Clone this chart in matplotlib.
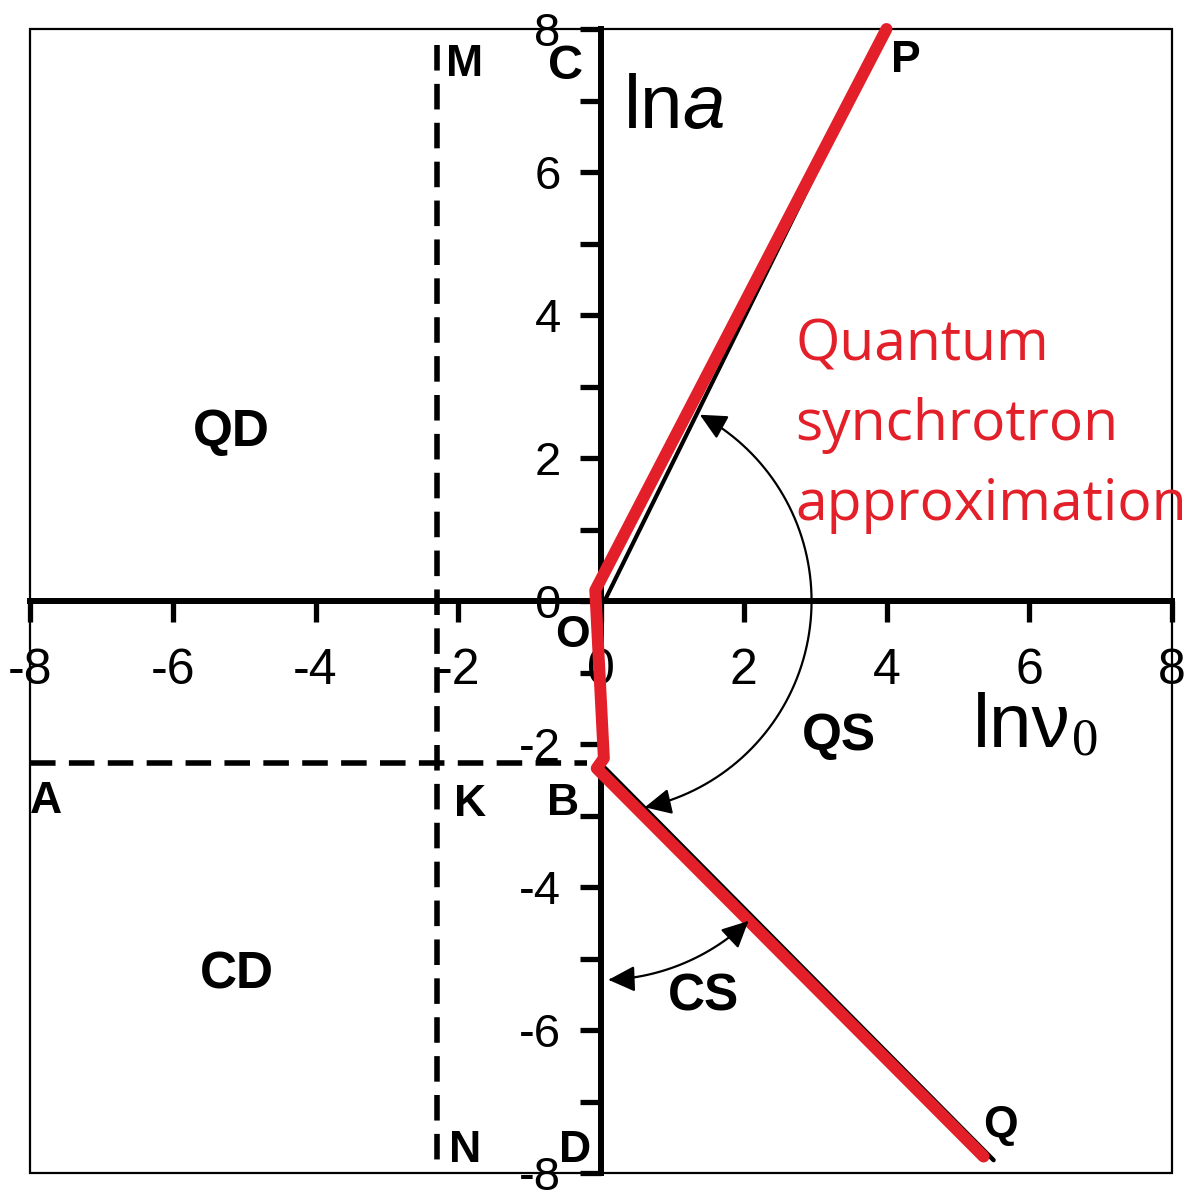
import matplotlib.pyplot as plt
import numpy as np
from matplotlib.patches import FancyArrowPatch, Rectangle
from matplotlib.path import Path

plt.rcParams['font.family'] = ['Liberation Sans', 'DejaVu Sans']
plt.rcParams['axes.unicode_minus'] = False
plt.rcParams['mathtext.fontset'] = 'custom'
plt.rcParams['mathtext.rm'] = 'Liberation Sans'
plt.rcParams['mathtext.it'] = 'Liberation Sans:italic'

# axis ticks
x_ticks = [-8, -6, -4, -2, 0, 2, 4, 6, 8]
y_ticks = [-8, -6, -4, -2, 0, 2, 4, 6, 8]
y_minor = [-7, -5, -3, -1, 1, 3, 5, 7]

# quantum synchrotron approximation (red) and the exact boundaries (black)
red_x = [4.0, -0.08, 0.04, -0.06, 5.36]
red_y = [8.0, 0.15, -2.2, -2.34, -7.77]
op_x = [0.05, 4.0]
op_y = [0.0, 8.0]
bq_x = [0.0, 5.5]
bq_y = [-2.28, -7.82]

# dashed boundaries through K
k_x = -2.3
k_y = -2.27

# arcs: centre x, centre y, radius, start angle, end angle (deg)
qs_arc = [0.0, 0.0, 2.95, 62.0, -78.0]
cs_arc = [0.0, -2.3, 3.0, -88.0, -46.5]

# point and region labels
point_names = ['M', 'C', 'P', 'O', 'A', 'K', 'B', 'N', 'D', 'Q']
point_x = [-1.91, -0.5, 4.27, -0.4, -7.78, -1.84, -0.53, -1.91, -0.36, 5.6]
point_y = [7.5, 7.48, 7.56, -0.48, -2.8, -2.85, -2.83, -7.68, -7.68, -7.33]
region_names = ['QD', 'CD', 'QS', 'CS']
region_x = [-5.18, -5.1, 3.33, 1.43]
region_y = [2.36, -5.23, -1.9, -5.54]

red_lines = ['Quantum', 'synchrotron', 'approximation']
red_line_y = [3.37, 2.25, 1.13]

fig = plt.figure(figsize=(11.87, 11.94), dpi=100)
ax = fig.add_axes([30 / 1187, 21 / 1194, 1142 / 1187, 1144 / 1194])
ax.set_xlim(-8, 8)
ax.set_ylim(-8, 8)

ax.spines['top'].set_visible(False)
ax.spines['right'].set_visible(False)
ax.spines['left'].set_position(('data', 0))
ax.spines['bottom'].set_position(('data', 0))
ax.spines['left'].set_linewidth(4.3)
ax.spines['bottom'].set_linewidth(4.3)
ax.add_patch(Rectangle((0, 0), 1, 1, transform=ax.transAxes, fill=False,
                       lw=1.6, ec='black', clip_on=False, zorder=1))

ax.set_xticks(x_ticks)
ax.set_xticklabels([str(v) for v in x_ticks])
ax.set_yticks(y_ticks)
ax.set_yticklabels([str(v) for v in y_ticks])
ax.set_yticks(y_minor, minor=True)
ax.xaxis.set_ticks_position('bottom')
ax.yaxis.set_ticks_position('left')
ax.tick_params(axis='both', which='both', direction='out', length=15, width=3.8)
ax.tick_params(axis='x', labelsize=36, pad=19)
ax.tick_params(axis='y', labelsize=34, pad=14)

# dashed lines
ax.plot([k_x, k_x], [7.78, -8], color='black', lw=4.0, ls=(0, (4.6, 2.4)), zorder=2)
ax.plot([-8, -0.2], [k_y, k_y], color='black', lw=4.0, ls=(0, (4.6, 2.4)), zorder=2)

# boundaries
ax.plot(op_x, op_y, color='black', lw=3.0, zorder=3)
ax.plot(bq_x, bq_y, color='black', lw=3.2, solid_capstyle='round', zorder=3)
ax.plot(red_x, red_y, color='#e3202a', lw=8.6, solid_capstyle='round',
        solid_joinstyle='round', zorder=4, clip_on=False)


def arc_arrow(cx, cy, r, a0, a1):
    t = np.radians(np.linspace(a0, a1, 80))
    path = Path(np.column_stack([cx + r * np.cos(t), cy + r * np.sin(t)]))
    arrow = FancyArrowPatch(path=path, arrowstyle='<|-|>,head_length=0.45,head_width=0.22',
                            mutation_scale=36, lw=1.6, color='black', zorder=5)
    ax.add_patch(arrow)


arc_arrow(*qs_arc)
arc_arrow(*cs_arc)

for name, x, y in zip(point_names, point_x, point_y):
    size = 35 if name == 'C' else 32
    ax.text(x, y, name, fontsize=size, fontweight='bold', ha='center', va='center', zorder=6)
for name, x, y in zip(region_names, region_x, region_y):
    ax.text(x, y, name, fontsize=37, fontweight='bold', ha='center', va='center', zorder=6)

# axis names
ax.text(0.31, 6.62, r'ln$a$', fontsize=55, ha='left', va='baseline')
ax.text(5.21, -2.04, 'lnν', fontsize=55, ha='left', va='baseline')
ax.text(6.79, -2.15, '0', family='Liberation Serif', fontsize=38, ha='center', va='baseline')

for line, y in zip(red_lines, red_line_y):
    ax.text(2.72, y, line, family='Open Sans', fontsize=41, color='#e3202a',
            ha='left', va='baseline', clip_on=False)

fig.savefig('out.png', dpi=100)
